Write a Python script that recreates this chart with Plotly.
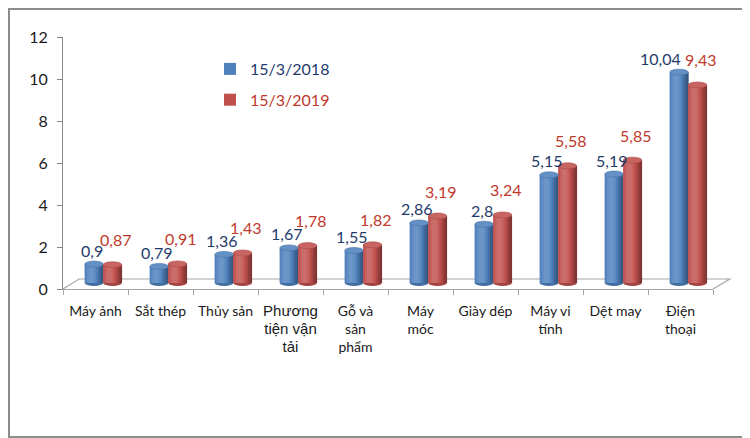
import math
import plotly.graph_objects as go

# ---------------- data ----------------
categories = [
    "Máy ảnh", "Sắt thép", "Thủy sản",
    '<span style="font-family:Liberation Sans;font-size:15px">Phương<br>tiện vận<br>tải</span>',
    "Gỗ và<br>sản<br>phẩm", "Máy<br>móc", "Giày dép", "Máy vi<br>tính", "Dệt may", "Điện<br>thoại",
]
series_names = ["15/3/2018", "15/3/2019"]
values_2018 = [0.9, 0.79, 1.36, 1.67, 1.55, 2.86, 2.8, 5.15, 5.19, 10.04]
values_2019 = [0.87, 0.91, 1.43, 1.78, 1.82, 3.19, 3.24, 5.58, 5.85, 9.43]
y_tick_values = [0, 2, 4, 6, 8, 10, 12]

# ---------------- style ----------------
# page body has an 8px margin, so the figure is 8px smaller and starts at (8, 8)
PAGE = 8
W, H = 750 - PAGE, 438 - PAGE
ML, MR, MT, MB = 63 - PAGE, 37, 37 - PAGE, 149
PLOT_W = W - ML - MR
PLOT_H = H - MT - MB
UNIT_PX = PLOT_H / 12.0
BASE_LIFT = 6 / UNIT_PX          # bars stand a little behind the front floor edge
FONT = "Lato, Open Sans, sans-serif"

base_colors = {"15/3/2018": (79, 129, 189), "15/3/2019": (192, 80, 77)}
label_colors = {"15/3/2018": "#1F3B6B", "15/3/2019": "#C0392B"}
bar_width = 0.285
bar_offsets = {"15/3/2018": -0.165, "15/3/2019": 0.12}
label_xshift = {"15/3/2018": -4, "15/3/2019": 20}
label_yshift = {"15/3/2018": 14, "15/3/2019": 25}
label_nudge_2018 = {9: -16}      # extra horizontal nudge for crowded labels
N_STRIPS = 10


def shade(rgb, f):
    if f <= 1:
        c = [int(round(v * f)) for v in rgb]
    else:
        c = [int(round(v + (255 - v) * (f - 1))) for v in rgb]
    return "rgb(%d,%d,%d)" % tuple(max(0, min(255, v)) for v in c)


def light(t):
    theta = (t - 0.5) * math.pi
    return 0.76 + 0.42 * max(math.cos(theta + 0.5), -0.2)


def fmt(v):
    return ("%g" % v).replace(".", ",")


fig = go.Figure()
x_idx = list(range(len(categories)))

for name, vals in zip(series_names, [values_2018, values_2019]):
    rgb = base_colors[name]
    off = bar_offsets[name]
    fig.add_trace(go.Bar(
        x=categories, y=vals, name='<span style="color:%s">%s</span>' % (label_colors[name], name),
        legendgroup=name, marker=dict(color="rgb(%d,%d,%d)" % rgb, line=dict(width=0)),
        offset=off, width=bar_width, yaxis="y2", hoverinfo="skip",
    ))
    sw = bar_width / N_STRIPS
    for k in range(N_STRIPS):
        t = (k + 0.5) / N_STRIPS
        fig.add_trace(go.Bar(
            x=categories, y=vals, showlegend=False, legendgroup=name,
            marker=dict(color=shade(rgb, light(t)), line=dict(width=0)),
            offset=off + k * sw, width=sw + 0.004, yaxis="y2", hoverinfo="skip",
        ))

shapes = []
EH = 3 / UNIT_PX
for name, vals in zip(series_names, [values_2018, values_2019]):
    rgb = base_colors[name]
    off = bar_offsets[name]
    for i, v in zip(x_idx, vals):
        shapes.append(dict(type="circle", xref="x", yref="y2", layer="below",
                           x0=i + off, x1=i + off + bar_width, y0=-EH, y1=EH,
                           fillcolor=shade(rgb, 0.85), line=dict(width=0)))
        shapes.append(dict(type="circle", xref="x", yref="y2", layer="above",
                           x0=i + off, x1=i + off + bar_width, y0=v - EH, y1=v + EH,
                           fillcolor=shade(rgb, 1.12), line=dict(color=shade(rgb, 0.9), width=0.6)))

# 3D floor outline (back edge + side edges)
dx = 16 / PLOT_W
dy = 10 / UNIT_PX
shapes.append(dict(type="path", xref="paper", yref="y", layer="below",
                   path="M 0,0 L %f,%f L %f,%f L 1,0" % (dx, dy, 1 + dx * 1.05, dy),
                   line=dict(color="#A6A6A6", width=1.2)))
# outer border of the picture
shapes.append(dict(type="rect", xref="paper", yref="paper",
                   x0=(-ML + 1) / PLOT_W, x1=1 + (MR - 1) / PLOT_W,
                   y0=(-MB + 1) / PLOT_H, y1=1 + (MT - 1) / PLOT_H,
                   line=dict(color="#8C8C8C", width=2)))

annotations = []
for name, vals in zip(series_names, [values_2018, values_2019]):
    for i, v in zip(x_idx, vals):
        xs = label_xshift[name]
        if name == series_names[0]:
            xs += label_nudge_2018.get(i, 0)
        annotations.append(dict(x=i, y=v, xref="x", yref="y2", text=fmt(v), showarrow=False,
                                xshift=xs, yshift=label_yshift[name],
                                yanchor="middle", xanchor="center",
                                font=dict(family=FONT, size=16, color=label_colors[name])))

LEG_LEFT_ABS, LEG_TOP_ABS = 210, 52
fig.update_layout(
    width=W, height=H,
    margin=dict(l=ML, r=MR, t=MT, b=MB, pad=0),
    paper_bgcolor="white", plot_bgcolor="white",
    barmode="overlay",
    showlegend=True,
    legend=dict(x=(LEG_LEFT_ABS - PAGE - ML) / PLOT_W, y=1 - (LEG_TOP_ABS - PAGE - MT) / PLOT_H,
                xanchor="left", yanchor="top",
                font=dict(family=FONT, size=16), bgcolor="rgba(0,0,0,0)",
                tracegroupgap=7, traceorder="grouped"),
    xaxis=dict(type="category", tickson="boundaries", ticks="outside", ticklen=5,
               tickcolor="#A6A6A6", showline=True, linecolor="#A6A6A6", linewidth=1.2,
               showgrid=False, zeroline=False, ticklabelstandoff=9,
               tickfont=dict(family=FONT, size=14, color="#1a1a1a"), range=[-0.5, 9.5]),
    yaxis=dict(range=[0, 12], tickvals=y_tick_values, ticks="outside", ticklen=5,
               tickcolor="#868686", showline=True, linecolor="#868686", linewidth=1.2,
               showgrid=False, zeroline=False, ticklabelstandoff=6,
               tickfont=dict(family=FONT, size=16, color="#1a1a1a")),
    yaxis2=dict(range=[-BASE_LIFT, 12 - BASE_LIFT], overlaying="y", visible=False),
    shapes=shapes,
    annotations=annotations,
    hovermode=False,
)

fig.write_html("out.html")
